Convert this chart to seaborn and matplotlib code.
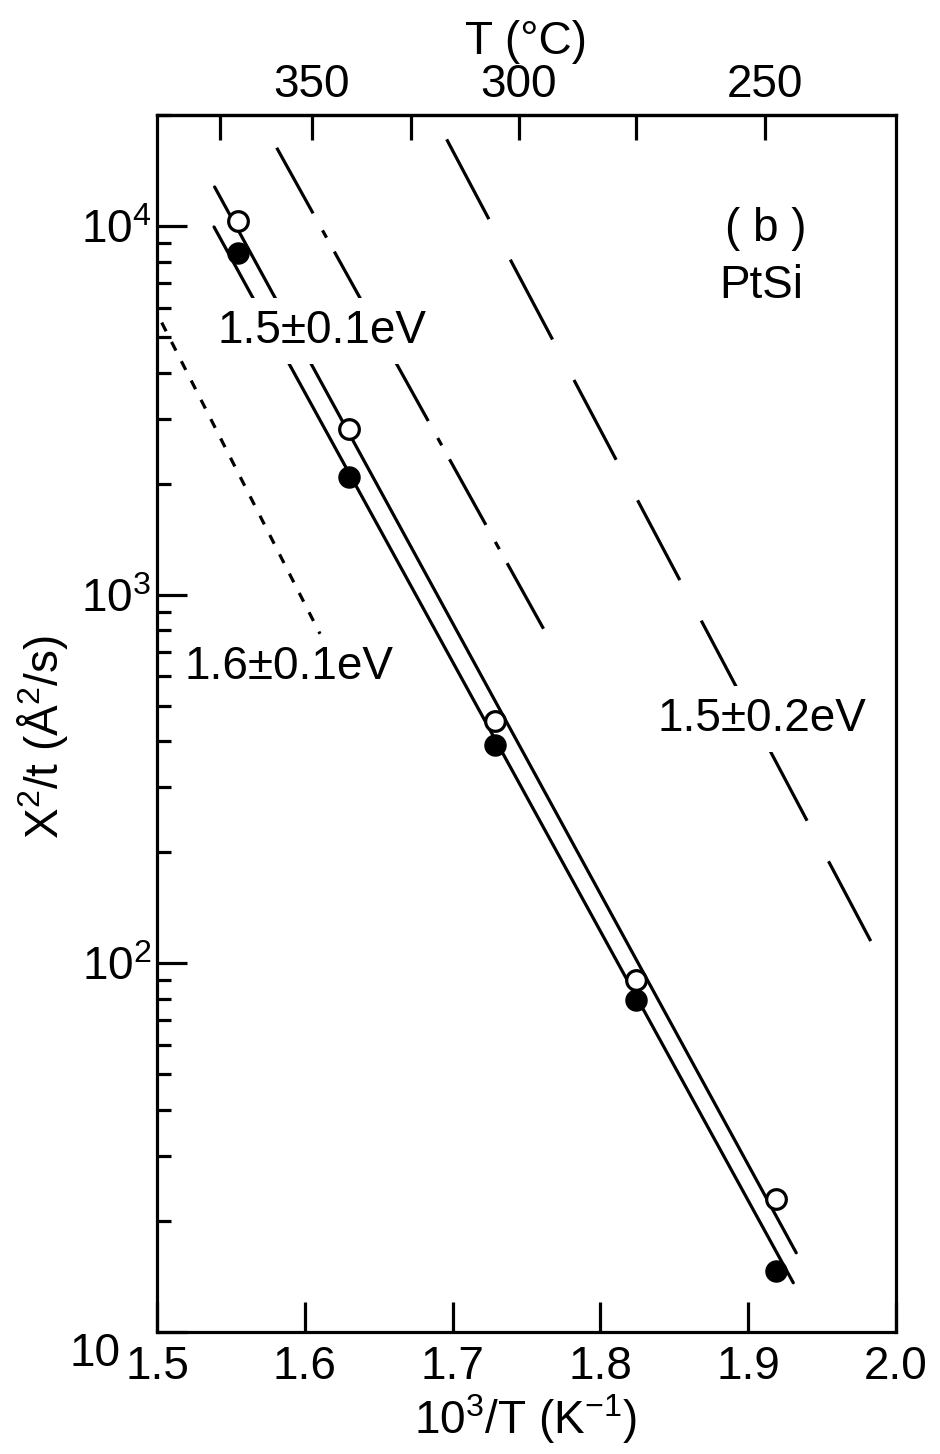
import numpy as np
import matplotlib
matplotlib.use("Agg")
import matplotlib.pyplot as plt
import matplotlib.ticker as mticker
from matplotlib.transforms import ScaledTranslation
import seaborn as sns

# ---- data -------------------------------------------------------------
# inverse annealing temperature, 10^3/T (1/K)
inv_T = [1.555, 1.630, 1.729, 1.824, 1.919]
# growth rate X^2/t (Å^2/s)
rate_open = [10300, 2820, 455, 90, 23.0]
rate_filled = [8470, 2090, 390, 79.4, 14.6]

# Arrhenius fits through the two data sets (end points)
fit_open_x = [1.539, 1.9325]
fit_open_y = [12760, 16.4]
fit_filled_x = [1.5386, 1.9305]
fit_filled_y = [9940, 13.6]

# literature lines
dashdot_x = [1.581, 1.766]
dashdot_y = [16300, 750]
longdash_x = [1.696, 1.987]
longdash_y = [17180, 107]
dotted_x = [1.5032, 1.6103]
dotted_y = [5470, 783]

# top axis, temperature in Celsius
temp_ticks_C = [375, 350, 325, 300, 275, 250]
temp_labels = ["", "350", "", "300", "", "250"]

x_ticks = [1.5, 1.6, 1.7, 1.8, 1.9, 2.0]
x_tick_labels = ["1.5", "1.6", "1.7", "1.8", "1.9", "2.0"]
y_ticks = [10, 100, 1000, 10000]
y_tick_labels = ["10", "$10^2$", "$10^3$", "$10^4$"]

# ---- style ------------------------------------------------------------
sns.set_theme(style="white")
plt.rcParams.update({
    "font.family": ["Liberation Sans", "DejaVu Sans"],
    "mathtext.fontset": "custom",
    "mathtext.rm": "Liberation Sans",
    "mathtext.it": "Liberation Sans",
    "mathtext.bf": "Liberation Sans",
    "lines.scale_dashes": False,
    "axes.linewidth": 2.3,
    "axes.edgecolor": "black",
    "text.color": "black",
    "axes.labelcolor": "black",
    "xtick.color": "black",
    "ytick.color": "black",
})

FS = 33
LW = 2.3

fig = plt.figure(figsize=(9.4, 14.54), dpi=100)
ax = fig.add_axes([0.167, 0.0839, 0.7862, 0.8370])
ax.set_yscale("log")

line_kw = dict(color="black", linewidth=LW, estimator=None, sort=False,
               legend=False, ax=ax)
sns.lineplot(x=fit_open_x, y=fit_open_y, **line_kw)
sns.lineplot(x=fit_filled_x, y=fit_filled_y, **line_kw)
sns.lineplot(x=dashdot_x, y=dashdot_y, linestyle=(0, (54, 14, 6, 11.5)), **line_kw)
sns.lineplot(x=longdash_x, y=longdash_y, linestyle=(0, (65, 33)), **line_kw)
sns.lineplot(x=dotted_x, y=dotted_y, linestyle=(0, (7, 8.6)), **line_kw)

sns.scatterplot(x=inv_T, y=rate_open, marker="o", s=200, color="white",
                edgecolor="black", linewidth=LW, zorder=5, legend=False, ax=ax)
sns.scatterplot(x=inv_T, y=rate_filled, marker="o", s=230, color="black",
                edgecolor="black", linewidth=1.0, zorder=5, legend=False, ax=ax)

# activation energy labels
box = dict(facecolor="white", edgecolor="none", pad=8)
ax.text(1.6117, 4820, "1.5±0.1eV", fontsize=FS, ha="center", va="baseline",
        bbox=box, zorder=3)
ax.text(1.5893, 592, "1.6±0.1eV", fontsize=FS, ha="center", va="baseline",
        zorder=3)
ax.text(1.9091, 428, "1.5±0.2eV", fontsize=FS, ha="center", va="baseline",
        bbox=box, zorder=3)
ax.text(1.9122, 9100, "( b )", fontsize=FS, ha="center", va="baseline")
ax.text(1.9088, 6380, "PtSi", fontsize=FS, ha="center", va="baseline")

# ---- axes -------------------------------------------------------------
ax.set_xlim(1.5, 2.0)
ax.set_ylim(10, 2e4)
ax.set_xticks(x_ticks)
ax.set_xticklabels(x_tick_labels)
ax.yaxis.set_major_locator(mticker.FixedLocator(y_ticks))
ax.set_yticklabels(y_tick_labels)
ax.yaxis.set_minor_locator(mticker.LogLocator(base=10, subs=np.arange(2, 10)))
ax.yaxis.set_minor_formatter(mticker.NullFormatter())
ax.xaxis.set_minor_locator(mticker.NullLocator())

ax.tick_params(axis="y", which="major", direction="in", length=21.6, width=LW,
               left=True, right=False, labelsize=FS, pad=4)
ax.tick_params(axis="y", which="minor", direction="in", length=10, width=LW,
               left=True, right=False)
ax.tick_params(axis="x", which="major", direction="in", length=21.6, width=LW,
               bottom=True, top=False, labelsize=FS, pad=9)
for s in ax.spines.values():
    s.set_linewidth(LW)
    s.set_color("black")


def inv_to_celsius(x):
    x = np.asarray(x, dtype=float)
    with np.errstate(divide="ignore", invalid="ignore"):
        return 1000.0 / x - 273.15


def celsius_to_inv(t):
    t = np.asarray(t, dtype=float)
    with np.errstate(divide="ignore", invalid="ignore"):
        return 1000.0 / (t + 273.15)


sec = ax.secondary_xaxis("top", functions=(inv_to_celsius, celsius_to_inv))
sec.set_xticks(temp_ticks_C)
sec.set_xticklabels(temp_labels)
sec.tick_params(axis="x", direction="in", length=18, width=LW,
                labelsize=FS, pad=6)
sec.spines["top"].set_linewidth(LW)
sec.set_xlabel("T (°C)", fontsize=FS, labelpad=6)

ax.set_xlabel(r"10$^3$/T (K$^{-1}$)", fontsize=FS)
ax.xaxis.set_label_coords(0.498, -0.049)
ax.set_ylabel(r"X$^2$/t (Å$^2$/s)", fontsize=FS)
ax.yaxis.set_label_coords(-0.118, 0.489)

# nudge the lowest decade label off the corner
lbl = ax.get_yticklabels()[0]
lbl.set_transform(lbl.get_transform() +
                  ScaledTranslation(-22 / 72, -12 / 72, fig.dpi_scale_trans))

fig.savefig("out.png", dpi=100, facecolor="white")
